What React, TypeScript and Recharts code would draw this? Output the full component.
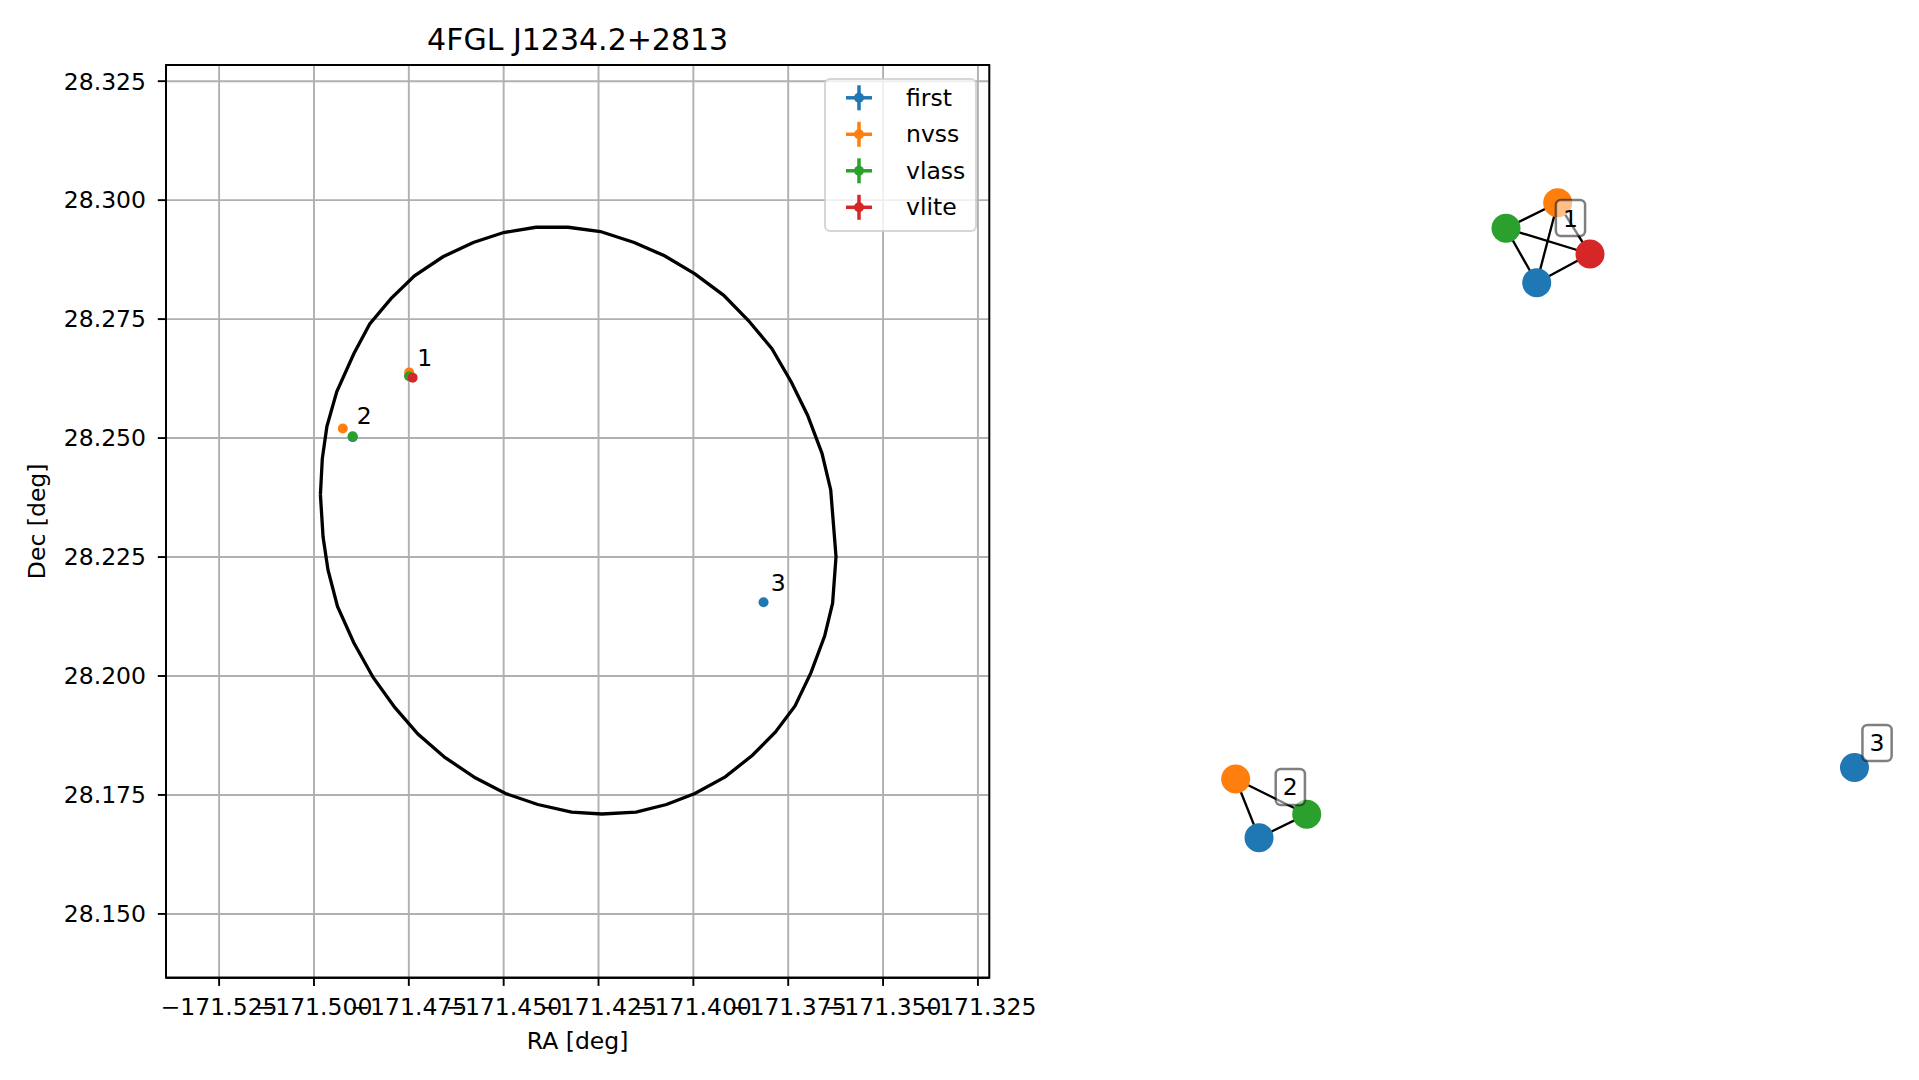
import React from 'react';
import { ScatterChart, Scatter, XAxis, YAxis, CartesianGrid, Legend, ReferenceArea, Label } from 'recharts';

// ---------- text ----------
const TITLE = '4FGL J1234.2+2813';
const X_LABEL = 'RA [deg]';
const Y_LABEL = 'Dec [deg]';

// ---------- axes ----------
const xTicks = [-171.525, -171.5, -171.475, -171.45, -171.425, -171.4, -171.375, -171.35, -171.325];
const yTicks = [28.15, 28.175, 28.2, 28.225, 28.25, 28.275, 28.3, 28.325];
const xDomain = [-171.539, -171.322];
const yDomain = [28.1366, 28.3284];

// ---------- sources (RA shown negated, Dec) ----------
const first = [
  { x: -171.4749, y: 28.2631 },
  { x: -171.4898, y: 28.2502 },
  { x: -171.3815, y: 28.2155 },
];
const nvss = [
  { x: -171.4749, y: 28.2638 },
  { x: -171.4924, y: 28.2520 },
];
const vlass = [
  { x: -171.4749, y: 28.2630 },
  { x: -171.4898, y: 28.2504 },
];
const vlite = [{ x: -171.4740, y: 28.2627 }];

const clusterLabels = [
  { x: -171.4728, y: 28.2651, label: '1' },
  { x: -171.4887, y: 28.2529, label: '2' },
  { x: -171.3796, y: 28.2179, label: '3' },
];

// ---------- localisation ellipse (vertices) ----------
const ellipse = [
  { x: -171.4983, y: 28.2381 }, { x: -171.4978, y: 28.2457 }, { x: -171.4966, y: 28.2524 },
  { x: -171.4940, y: 28.2597 }, { x: -171.4895, y: 28.2677 }, { x: -171.4853, y: 28.2740 },
  { x: -171.4797, y: 28.2793 }, { x: -171.4735, y: 28.2841 }, { x: -171.4660, y: 28.2881 },
  { x: -171.4580, y: 28.2911 }, { x: -171.4500, y: 28.2932 }, { x: -171.4415, y: 28.2943 },
  { x: -171.4330, y: 28.2943 }, { x: -171.4245, y: 28.2934 }, { x: -171.4156, y: 28.2911 },
  { x: -171.4076, y: 28.2883 }, { x: -171.3996, y: 28.2845 }, { x: -171.3920, y: 28.2800 },
  { x: -171.3855, y: 28.2747 }, { x: -171.3793, y: 28.2688 }, { x: -171.3742, y: 28.2618 },
  { x: -171.3699, y: 28.2548 }, { x: -171.3661, y: 28.2468 }, { x: -171.3638, y: 28.2391 },
  { x: -171.3624, y: 28.2251 }, { x: -171.3633, y: 28.2153 }, { x: -171.3654, y: 28.2084 },
  { x: -171.3690, y: 28.2007 }, { x: -171.3732, y: 28.1937 }, { x: -171.3784, y: 28.1882 },
  { x: -171.3845, y: 28.1833 }, { x: -171.3916, y: 28.1788 }, { x: -171.3996, y: 28.1753 },
  { x: -171.4071, y: 28.1730 }, { x: -171.4151, y: 28.1714 }, { x: -171.4241, y: 28.1710 },
  { x: -171.4321, y: 28.1714 }, { x: -171.4410, y: 28.1730 }, { x: -171.4495, y: 28.1753 },
  { x: -171.4575, y: 28.1786 }, { x: -171.4655, y: 28.1829 }, { x: -171.4726, y: 28.1878 },
  { x: -171.4787, y: 28.1934 }, { x: -171.4844, y: 28.1997 }, { x: -171.4895, y: 28.2070 },
  { x: -171.4938, y: 28.2146 }, { x: -171.4963, y: 28.2223 }, { x: -171.4976, y: 28.2292 },
  { x: -171.4983, y: 28.2381 },
];

// ---------- match graph (layout coordinates) ----------
const graphFirst = [
  { id: '1', x: 0.5459, y: 0.7716 },
  { id: '2', x: 0.1988, y: 0.0779 },
  { id: '3', x: 0.9431, y: 0.1656 },
];
const graphNvss = [
  { id: '1', x: 0.5721, y: 0.8716 },
  { id: '2', x: 0.1696, y: 0.1513 },
];
const graphVlass = [
  { id: '1', x: 0.5075, y: 0.8396 },
  { id: '2', x: 0.2584, y: 0.1071 },
];
const graphVlite = [{ id: '1', x: 0.6125, y: 0.8075 }];

const graphEdges = [
  ['1', 'first', 'nvss'], ['1', 'first', 'vlass'], ['1', 'first', 'vlite'],
  ['1', 'nvss', 'vlass'], ['1', 'nvss', 'vlite'], ['1', 'vlass', 'vlite'],
  ['2', 'first', 'nvss'], ['2', 'first', 'vlass'], ['2', 'nvss', 'vlass'],
];

const graphLabels = [
  { x: 0.5881, y: 0.8525, label: '1' },
  { x: 0.2379, y: 0.1413, label: '2' },
  { x: 0.9713, y: 0.1963, label: '3' },
];

// ---------- styling ----------
const FONT = "'DejaVu Sans', sans-serif";
const FS = 23.5;
const surveys = [
  { name: 'first', color: '#1f77b4', data: first, graph: graphFirst },
  { name: 'nvss', color: '#ff7f0e', data: nvss, graph: graphNvss },
  { name: 'vlass', color: '#2ca02c', data: vlass, graph: graphVlass },
  { name: 'vlite', color: '#d62728', data: vlite, graph: graphVlite },
];
const colorOf: Record<string, string> = {};
surveys.forEach((s) => (colorOf[s.name] = s.color));

const nodeOf = (cluster: string, survey: string) => {
  const s = surveys.find((v) => v.name === survey)!;
  return s.graph.find((n) => n.id === cluster)!;
};

const empty = () => <g />;

const fmtX = (v: number) => (v < 0 ? '\u2212' : '') + Math.abs(v).toFixed(3);
const fmtY = (v: number) => v.toFixed(3);

// plot geometry (page px)
const PL = 166, PR = 989.3, PT = 65, PB = 977.7;
const CW = 1060, CH = 1080;

const renderLegend = (props: any) => {
  const items = (props.payload || []).filter((p: any) => colorOf[p.value]);
  const w = 153, h = 154;
  return (
    <svg width={w} height={h} style={{ display: 'block' }}>
      <rect x={1} y={1} width={w - 2} height={h - 2} rx={5} ry={5} fill="#ffffff" fillOpacity={0.8} stroke="#cccccc" strokeOpacity={0.8} strokeWidth={2} />
      {items.map((it: any, i: number) => {
        const cy = 19.8 + i * 36.5;
        const c = colorOf[it.value];
        return (
          <g key={it.value}>
            <line x1={22} x2={48} y1={cy} y2={cy} stroke={c} strokeWidth={3.5} />
            <line x1={35} x2={35} y1={cy - 12.5} y2={cy + 12.5} stroke={c} strokeWidth={3.5} />
            <circle cx={35} cy={cy} r={5} fill={c} />
            <text x={82} y={cy + 8} fontSize={FS} fontFamily={FONT} fill="#000">{it.value}</text>
          </g>
        );
      })}
    </svg>
  );
};

const renderTitle = () => (
  <text x={(PL + PR) / 2} y={50} textAnchor="middle" fontSize={30} fontFamily={FONT} fill="#000">{TITLE}</text>
);
const renderXLabel = () => (
  <text x={(PL + PR) / 2} y={1048.5} textAnchor="middle" fontSize={FS} fontFamily={FONT} fill="#000">{X_LABEL}</text>
);
const renderYLabel = () => {
  const cx = 45, cy = (PT + PB) / 2;
  return (
    <text x={cx} y={cy} textAnchor="middle" transform={`rotate(-90, ${cx}, ${cy})`} fontSize={FS} fontFamily={FONT} fill="#000">{Y_LABEL}</text>
  );
};

export default function App() {
  const tickStyle = { fill: '#000', fontSize: FS, fontFamily: FONT };
  const axisLineStyle = { stroke: '#000', strokeWidth: 1.9 };
  return (
    <div style={{ position: 'fixed', left: 0, top: 0, width: 1919, height: 1080, background: '#fff' }}>
      <div style={{ position: 'absolute', left: 0, top: 0 }}>
        <ScatterChart width={CW} height={CH} margin={{ top: PT, right: CW - PR, bottom: CH - PB - 60, left: PL - 100 }}>
          <CartesianGrid stroke="#b0b0b0" strokeWidth={1.9} />
          <XAxis
            type="number" dataKey="x" domain={xDomain} allowDataOverflow ticks={xTicks} interval={0}
            tickFormatter={fmtX} height={60} tickSize={8.2} tickMargin={12}
            axisLine={axisLineStyle} tickLine={axisLineStyle} tick={tickStyle}
          >
            <Label content={renderXLabel} />
          </XAxis>
          <YAxis
            type="number" dataKey="y" domain={yDomain} allowDataOverflow ticks={yTicks} interval={0}
            tickFormatter={fmtY} width={100} tickSize={8.2} tickMargin={11.8}
            axisLine={axisLineStyle} tickLine={axisLineStyle} tick={tickStyle}
          >
            <Label content={renderYLabel} />
          </YAxis>
          <ReferenceArea
            x1={xDomain[0]} x2={xDomain[1]} y1={yDomain[0]} y2={yDomain[1]}
            fill="none" fillOpacity={0} stroke="#000" strokeWidth={1.9} strokeOpacity={1}
            ifOverflow="visible" label={renderTitle}
          />
          <Scatter name="ellipse" data={ellipse} line={{ stroke: '#000', strokeWidth: 3.3 }} lineType="joint" shape={empty} legendType="none" isAnimationActive={false} />
          {surveys.map((s) => (
            <Scatter
              key={s.name} name={s.name} data={s.data} fill={s.color} isAnimationActive={false}
              shape={(p: any) => <circle cx={p.cx} cy={p.cy} r={5} fill={s.color} />}
            />
          ))}
          <Scatter
            name="labels" data={clusterLabels} legendType="none" isAnimationActive={false}
            shape={(p: any) => (
              <text x={p.cx} y={p.cy} fontSize={FS} fontFamily={FONT} fill="#000">{p.payload.label}</text>
            )}
          />
          <Legend
            layout="vertical" align="center" verticalAlign="middle"
            wrapperStyle={{ position: 'absolute', left: 824, top: 78, width: 153, height: 154 }}
            content={renderLegend}
          />
        </ScatterChart>
      </div>
      <div style={{ position: 'absolute', left: 1060, top: 0 }}>
        <ScatterChart width={859} height={1080} margin={{ top: 100, right: 19, bottom: 180, left: 40 }}>
          <XAxis type="number" dataKey="x" domain={[0, 1]} allowDataOverflow hide />
          <YAxis type="number" dataKey="y" domain={[0, 1]} allowDataOverflow hide />
          {graphEdges.map(([c, a, b]) => (
            <Scatter
              key={`e-${c}-${a}-${b}`} data={[nodeOf(c, a), nodeOf(c, b)]}
              line={{ stroke: '#000', strokeWidth: 2.35 }} lineType="joint" shape={empty}
              legendType="none" isAnimationActive={false}
            />
          ))}
          {surveys.map((s) => (
            <Scatter
              key={`n-${s.name}`} name={s.name} data={s.graph} fill={s.color} isAnimationActive={false}
              shape={(p: any) => <circle cx={p.cx} cy={p.cy} r={14.5} fill={s.color} />}
            />
          ))}
          <Scatter
            data={graphLabels} isAnimationActive={false} legendType="none"
            shape={(p: any) => (
              <g>
                <rect x={p.cx - 14.6} y={p.cy - 18} width={29.2} height={36} rx={5} ry={5}
                  fill="#ffffff" fillOpacity={0.5} stroke="#000" strokeOpacity={0.5} strokeWidth={2.5} />
                <text x={p.cx} y={p.cy + 8.5} textAnchor="middle" fontSize={FS} fontFamily={FONT} fill="#000">{p.payload.label}</text>
              </g>
            )}
          />
        </ScatterChart>
      </div>
    </div>
  );
}
